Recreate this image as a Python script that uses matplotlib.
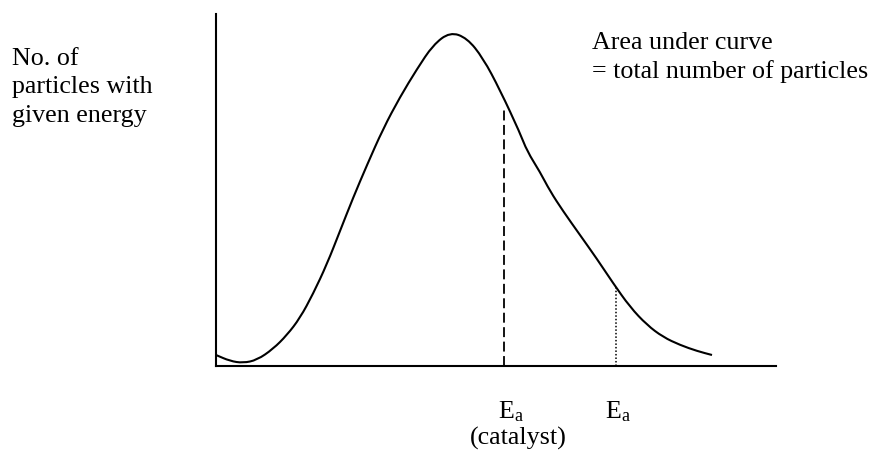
import matplotlib
matplotlib.use("Agg")
import matplotlib.pyplot as plt
from matplotlib.path import Path
from matplotlib.patches import PathPatch

plt.rcParams["font.family"] = ["Liberation Serif", "DejaVu Serif"]
plt.rcParams["mathtext.fontset"] = "custom"
plt.rcParams["mathtext.rm"] = "Liberation Serif"
plt.rcParams["mathtext.it"] = "Liberation Serif:italic"

W, H = 873, 457

# curve (energy, number of particles) in arbitrary units
energy = [0, 14, 27, 41, 57, 71, 84, 97, 111, 124, 137, 151, 167, 184, 201,
          217, 234, 251, 267, 284, 304, 311, 324, 334, 347, 364, 381, 397,
          414, 431, 447, 464, 481, 496]
count = [11, 5, 3, 6, 17, 31, 48, 72, 102, 135, 168, 201, 237, 269, 297,
         321, 334, 328, 308, 276, 233, 215, 194, 175, 155, 131, 107, 83,
         59, 41, 29, 21, 15, 11]

# activation energies: with catalyst (dashed) and without (dotted)
ea_cat, ea_cat_top = 288, 257
ea, ea_top = 400, 80

ylabel_lines = ["No. of", "particles with", "given energy"]
note_lines = ["Area under curve", "= total number of particles"]

fig = plt.figure(figsize=(W / 100, H / 100), dpi=100)
ax = fig.add_axes([216 / W, (H - 366) / H, 560 / W, 352 / H])

# smooth the read points with quadratic bezier segments (points as controls)
pts = list(zip(energy, count))
verts = [pts[0], ((pts[0][0] + pts[1][0]) / 2, (pts[0][1] + pts[1][1]) / 2)]
codes = [Path.MOVETO, Path.LINETO]
for i in range(1, len(pts) - 1):
    mid = ((pts[i][0] + pts[i + 1][0]) / 2, (pts[i][1] + pts[i + 1][1]) / 2)
    verts += [pts[i], mid]
    codes += [Path.CURVE3, Path.CURVE3]
verts.append(pts[-1])
codes.append(Path.LINETO)
ax.add_patch(PathPatch(Path(verts, codes), facecolor="none",
                       edgecolor="black", lw=1.5))

ax.plot([ea_cat, ea_cat], [0, ea_cat_top], color="black", lw=1.3,
        linestyle=(0, (5.5, 2.5)))
ax.plot([ea, ea], [0, ea_top], color="black", lw=1.1,
        linestyle=(0, (1, 1.3)))

ax.set_xlim(0, 560)
ax.set_ylim(0, 352)
for s in ["top", "right"]:
    ax.spines[s].set_visible(False)
for s in ["left", "bottom"]:
    ax.spines[s].set_linewidth(1.5)
ax.set_xticks([])
ax.set_yticks([])


def put(x, y, s, **kw):
    # place text by pixel position, y measured from top at the baseline
    fig.text(x / W, 1 - y / H, s, fontsize=18.7, va="baseline", ha="left", **kw)


for i, line in enumerate(ylabel_lines):
    put(12, 65 + i * 28.5, line)
for i, line in enumerate(note_lines):
    put(592, 49 + i * 29, line)

put(498, 418, r"$\mathrm{E_a}$")
put(605, 418, r"$\mathrm{E_a}$")
put(470, 445, "(catalyst)")

fig.savefig("out.png", dpi=100)
